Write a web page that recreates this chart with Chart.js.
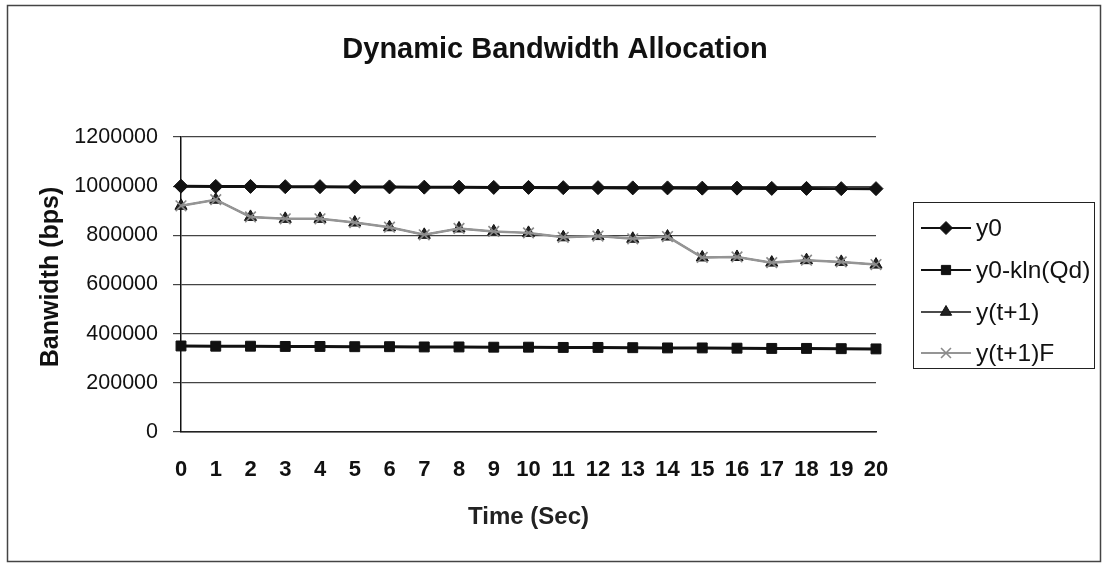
<!DOCTYPE html>
<html>
<head>
<meta charset="utf-8">
<script src="https://cdn.jsdelivr.net/npm/chart.js@4"></script>
<style>
  html, body { margin: 0; padding: 0; background: #ffffff; }
  #wrap { width: 1104px; height: 570px; position: relative; }
</style>
</head>
<body>
<div id="wrap"><canvas id="c" width="1104" height="570"></canvas></div>
<script>
// ---- data ----
const categories = ['0','1','2','3','4','5','6','7','8','9','10','11','12','13','14','15','16','17','18','19','20'];
const seriesNames = ['y0', 'y0-kln(Qd)', 'y(t+1)', 'y(t+1)F'];
const y0Values = [1000000, 999000, 999000, 998000, 998000, 997000, 997000, 996000, 996000, 995000, 995000,
                  994000, 994000, 993000, 993000, 992000, 992000, 991000, 991000, 990000, 990000];
const y0KlnValues = [350000, 349000, 349000, 348000, 348000, 347000, 347000, 346000, 346000, 345000, 345000,
                     344000, 344000, 343000, 342000, 342000, 341000, 340000, 340000, 339000, 338000];
const yT1Values = [920000, 945000, 875000, 867000, 867000, 852000, 833000, 802000, 828000, 816000, 810000,
                   792000, 797000, 786000, 795000, 710000, 712000, 689000, 699000, 692000, 681000];
const yT1FValues = [920000, 945000, 875000, 867000, 867000, 852000, 833000, 802000, 828000, 816000, 810000,
                    792000, 797000, 786000, 795000, 710000, 712000, 689000, 699000, 692000, 681000];
const yTickValues = [0, 200000, 400000, 600000, 800000, 1000000, 1200000];
const chartTitle = 'Dynamic Bandwidth Allocation';
const xTitle = 'Time (Sec)';
const yTitle = 'Banwidth (bps)';

const FONT = '"Liberation Sans", Arial, Helvetica, sans-serif';

const datasets = [
  { label: seriesNames[0], data: y0Values, borderColor: '#111', backgroundColor: '#111',
    borderWidth: 3, pointStyle: 'rectRot', pointRadius: 7, pointBorderWidth: 1, order: 1 },
  { label: seriesNames[1], data: y0KlnValues, borderColor: '#111', backgroundColor: '#111',
    borderWidth: 3, pointStyle: 'rect', pointRadius: 7, pointBorderWidth: 1, order: 2 },
  { label: seriesNames[2], data: yT1Values, borderColor: '#111', backgroundColor: '#222',
    borderWidth: 1.5, pointStyle: 'triangle', pointRadius: 7, pointBorderWidth: 1, order: 3 },
  { label: seriesNames[3], data: yT1FValues, borderColor: '#959595', backgroundColor: '#959595',
    pointBorderColor: '#8a8a8a', borderWidth: 2.5, pointStyle: 'crossRot', pointRadius: 7.5,
    pointBorderWidth: 1.6, order: 0 }
];

const decorPlugin = {
  id: 'decor',
  afterDraw(chart) {
    const ctx = chart.ctx;
    ctx.save();
    // outer frame
    ctx.strokeStyle = '#444';
    ctx.lineWidth = 1.5;
    ctx.strokeRect(7.5, 5.5, 1093, 556);
    // title
    ctx.fillStyle = '#111';
    ctx.font = 'bold 29px ' + FONT;
    ctx.textAlign = 'center';
    ctx.textBaseline = 'middle';
    ctx.fillText(chartTitle, 555, 50);
    // y axis title
    ctx.save();
    ctx.translate(51, 277);
    ctx.rotate(-Math.PI / 2);
    ctx.font = 'bold 25px ' + FONT;
    ctx.fillText(yTitle, 0, 0);
    ctx.restore();
    // legend box
    ctx.strokeStyle = '#222';
    ctx.lineWidth = 1;
    ctx.strokeRect(913.5, 202.5, 181, 166);
    const rows = [228, 270, 312, 353];
    chart.data.datasets.forEach((ds, i) => {
      const y = rows[i];
      ctx.strokeStyle = ds.borderColor;
      ctx.lineWidth = Math.min(ds.borderWidth, 2);
      ctx.beginPath();
      ctx.moveTo(921, y);
      ctx.lineTo(971, y);
      ctx.stroke();
      ctx.fillStyle = ds.backgroundColor;
      ctx.strokeStyle = ds.pointBorderColor || ds.borderColor;
      ctx.lineWidth = ds.pointBorderWidth;
      Chart.helpers.drawPoint(ctx, { pointStyle: ds.pointStyle, radius: ds.pointRadius - 0.5, borderWidth: ds.pointBorderWidth, rotation: 0 }, 946, y);
      ctx.fillStyle = '#111';
      ctx.font = '24.5px ' + FONT;
      ctx.textAlign = 'left';
      ctx.textBaseline = 'middle';
      ctx.fillText(ds.label, 976, y + 1);
    });
    ctx.restore();
  }
};

new Chart(document.getElementById('c'), {
  type: 'line',
  data: { labels: categories, datasets: datasets },
  options: {
    responsive: false,
    animation: false,
    devicePixelRatio: 1,
    layout: { padding: { left: 10, right: 228, top: 137, bottom: 10 } },
    elements: { line: { tension: 0 } },
    plugins: { legend: { display: false }, title: { display: false }, tooltip: { enabled: false } },
    scales: {
      x: {
        type: 'category',
        offset: false,
        grid: { display: false, drawTicks: false },
        border: { display: true, color: '#222', width: 1.5 },
        ticks: { font: { family: FONT, size: 22, weight: 'bold' }, color: '#111', padding: 25,
                 maxRotation: 0, autoSkip: false },
        title: { display: true, text: xTitle, color: '#222',
                 font: { family: FONT, size: 24, weight: 'bold' }, padding: { top: 0, bottom: 28 } },
        afterFit(s) { s.height = 128; }
      },
      y: {
        min: 0, max: 1200000,
        afterBuildTicks(s) { s.ticks = yTickValues.map(v => ({ value: v })); },
        ticks: { font: { family: FONT, size: 21.5 }, color: '#111', padding: 15,
                 callback: v => String(v) },
        grid: { color: '#444', lineWidth: 1.2, tickLength: 8, drawTicks: true },
        border: { display: true, color: '#111', width: 1.5 },
        title: { display: false },
        afterFit(s) { s.width = 171; }
      }
    }
  },
  plugins: [decorPlugin]
});
</script>
</body>
</html>
